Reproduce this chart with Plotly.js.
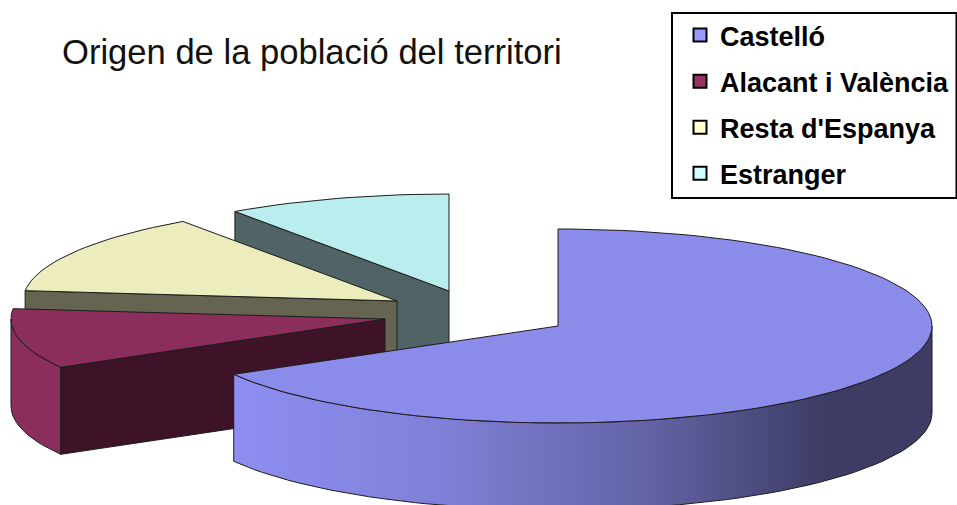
<!DOCTYPE html>
<html>
<head>
<meta charset="utf-8">
<script src="https://cdn.plot.ly/plotly-3.0.1.min.js"></script>
<style>html,body{margin:0;padding:0;background:#fff}#chart{width:957px;height:505px}</style>
</head>
<body>
<div id="chart"></div>
<script>
const categories = ["Castelló", "Alacant i València", "Resta d'Espanya", "Estranger"];
const values = [66.7, 10, 13.6, 9.7];
const legendColors = ["#9999FF", "#993366", "#FFFFCC", "#CCFFFF"];
const topColors = ["#8B8BE9", "#8B2E5C", "#ECECBC", "#BAEDED"];
const cutColors = ["#3C3C64", "#3E1327", "#646450", "#506466"];
const centersX = [558, 385, 397, 449];
const centersY = [326, 319, 301, 291];
const titleText = "Origen de la població del territori";

const RX = 374, RY = 97, DEPTH = 87;
const total = values.reduce((a, b) => a + b, 0);
const OUTLINE = "#1c1c1c";

function rim(i, a0, a1, dy) {
  const xs = [], ys = [];
  const n = Math.max(2, Math.ceil(Math.abs(a1 - a0) / 2));
  for (let k = 0; k <= n; k++) {
    const t = (a0 + (a1 - a0) * k / n) * Math.PI / 180;
    xs.push(centersX[i] + RX * Math.sin(t));
    ys.push(centersY[i] - RY * Math.cos(t) + dy);
  }
  return [xs, ys];
}
function poly(xs, ys, color, extra) {
  return Object.assign({
    type: "scatter", mode: "lines", x: xs.concat(xs[0]), y: ys.concat(ys[0]),
    fill: "toself", fillcolor: color, line: {color: OUTLINE, width: 1},
    hoverinfo: "skip", showlegend: false
  }, extra || {});
}

// slice angular spans, clockwise from 12 o'clock
const spans = [];
let acc = 0;
values.forEach(v => { const s = acc; acc += v / total * 360; spans.push([s, acc]); });

const traces = [];
[3, 2, 1, 0].forEach(i => {
  const [a0, a1] = spans[i];
  const cx = centersX[i], cy = centersY[i];
  // cut face whose radius runs toward the viewer's side
  if (i !== 0) {
    const t = a0 * Math.PI / 180;
    const ex = cx + RX * Math.sin(t), ey = cy - RY * Math.cos(t);
    traces.push(poly([cx, ex, ex, cx], [cy, ey, ey + DEPTH, cy + DEPTH], cutColors[i]));
  }
  // outer wall: the part of the rim facing the viewer
  const w0 = Math.max(a0, 90), w1 = Math.min(a1, 270);
  if (w1 > w0) {
    const [tx, ty] = rim(i, w0, w1, 0);
    const [bx, by] = rim(i, w1, w0, DEPTH);
    const extra = i === 0 ? {
      fillgradient: {type: "horizontal", colorscale: [
        [0, "#8E8EF2"], [0.30, "#8080D8"], [0.60, "#6262A4"], [0.85, "#3C3C64"], [1, "#3C3C64"]
      ]}
    } : {};
    traces.push(poly(tx.concat(bx), ty.concat(by), topColors[i], extra));
  }
  // top face
  const [rx, ry] = rim(i, a0, a1, 0);
  traces.push(poly([cx].concat(rx), [cy].concat(ry), topColors[i]));
});

// legend entries
categories.forEach((c, i) => traces.push({
  type: "scatter", mode: "markers", x: [null], y: [null], name: c, legendgroup: "g" + i,
  marker: {symbol: "square", size: 13, color: legendColors[i], line: {color: "#000", width: 2}},
  hoverinfo: "skip"
}));

const layout = {
  width: 957, height: 505, margin: {l: 0, r: 0, t: 0, b: 0},
  paper_bgcolor: "#fff", plot_bgcolor: "#fff",
  title: {text: titleText, x: 62 / 957, xanchor: "left", y: 1 - 52 / 505, yanchor: "middle",
    font: {family: "Liberation Sans, Arial, sans-serif", size: 34.6, color: "#111"}},
  xaxis: {range: [0, 957], visible: false, fixedrange: true},
  yaxis: {range: [505, 0], visible: false, fixedrange: true},
  showlegend: true,
  legend: {x: 680 / 957, xanchor: "left", y: 1 - 11 / 505, yanchor: "top", traceorder: "grouped",
    tracegroupgap: 8, bgcolor: "rgba(0,0,0,0)", borderwidth: 0,
    font: {family: "Liberation Sans, Arial, sans-serif", size: 27, color: "#000", weight: "bold"}},
  shapes: [{type: "rect", xref: "x", yref: "y", x0: 672, x1: 956.5, y0: 13, y1: 198,
    line: {color: "#000", width: 2}, fillcolor: "rgba(0,0,0,0)"}]
};
Plotly.newPlot("chart", traces, layout, {displayModeBar: false, staticPlot: true});
</script>
</body>
</html>
